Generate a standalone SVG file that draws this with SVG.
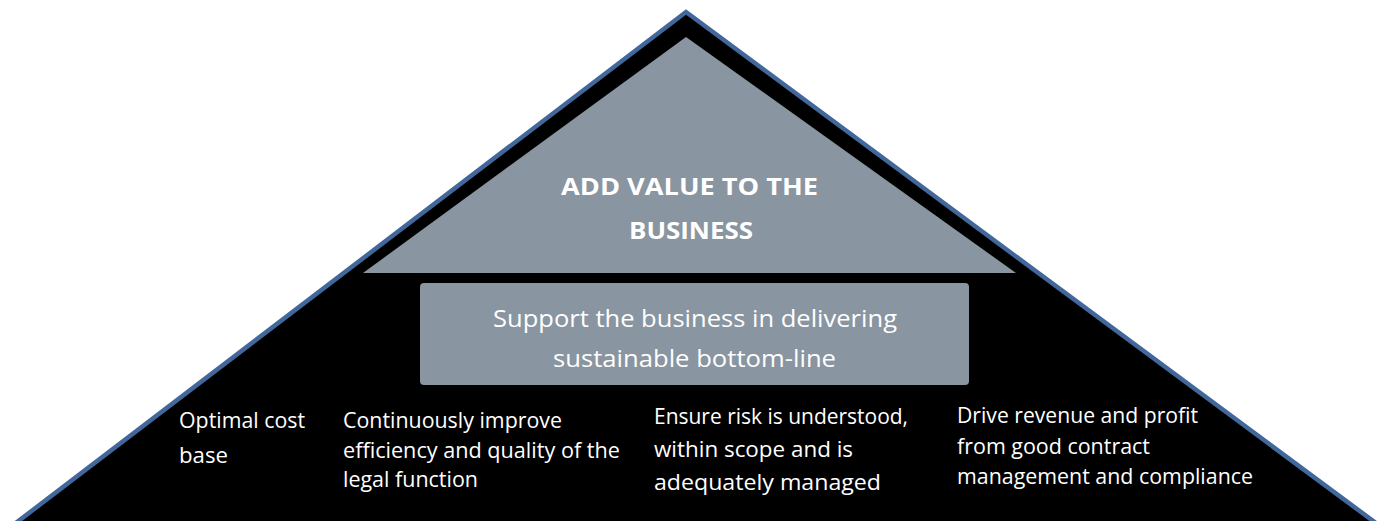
<svg xmlns="http://www.w3.org/2000/svg" width="1383" height="521" viewBox="0 0 1383 521">
<style>
.t{font-family:"Open Sans","Noto Sans","Liberation Sans",sans-serif;fill:#ffffff;}
.b{font-size:21px;font-weight:500;}
.m{font-size:23px;}
.h{font-size:24px;font-weight:bold;}
.g{fill:#8995A0;}
</style>
<rect width="1383" height="521" fill="#ffffff"/>
<g id="pyramid">
<polygon points="686,12 1388,532 4,532" fill="#000000" stroke="#41679B" stroke-width="4.5" stroke-linejoin="miter"/>
</g>
<g id="top-node">
<polygon class="g" points="686,37 1016,273 363,273"/>
<text class="t h" x="561" y="195" textLength="257" lengthAdjust="spacingAndGlyphs">ADD VALUE TO THE</text>
<text class="t h" x="629" y="239" textLength="124" lengthAdjust="spacingAndGlyphs">BUSINESS</text>
</g>
<g id="support-node">
<rect class="g" x="420" y="283" width="549" height="102" rx="4"/>
<text class="t m" x="493" y="327" textLength="404" lengthAdjust="spacingAndGlyphs">Support the business in delivering</text>
<text class="t m" x="553" y="367" textLength="283" lengthAdjust="spacingAndGlyphs">sustainable bottom-line</text>
</g>
<g id="cost-node">
<text class="t b" x="179" y="428" textLength="126" lengthAdjust="spacingAndGlyphs">Optimal cost</text>
<text class="t b" x="179" y="463" textLength="49" lengthAdjust="spacingAndGlyphs">base</text>
</g>
<g id="efficiency-node">
<text class="t b" x="343" y="428" textLength="219" lengthAdjust="spacingAndGlyphs">Continuously improve</text>
<text class="t b" x="343" y="458" textLength="277" lengthAdjust="spacingAndGlyphs">efficiency and quality of the</text>
<text class="t b" x="343" y="487" textLength="135" lengthAdjust="spacingAndGlyphs">legal function</text>
</g>
<g id="risk-node">
<text class="t b" x="654" y="424" textLength="254" lengthAdjust="spacingAndGlyphs">Ensure risk is understood,</text>
<text class="t b" x="654" y="457" textLength="199" lengthAdjust="spacingAndGlyphs">within scope and is</text>
<text class="t b" x="654" y="490" textLength="227" lengthAdjust="spacingAndGlyphs">adequately managed</text>
</g>
<g id="revenue-node">
<text class="t b" x="957" y="423" textLength="241" lengthAdjust="spacingAndGlyphs">Drive revenue and profit</text>
<text class="t b" x="957" y="454" textLength="193" lengthAdjust="spacingAndGlyphs">from good contract</text>
<text class="t b" x="957" y="484" textLength="296" lengthAdjust="spacingAndGlyphs">management and compliance</text>
</g>
<g id="connectors"></g>
</svg>
